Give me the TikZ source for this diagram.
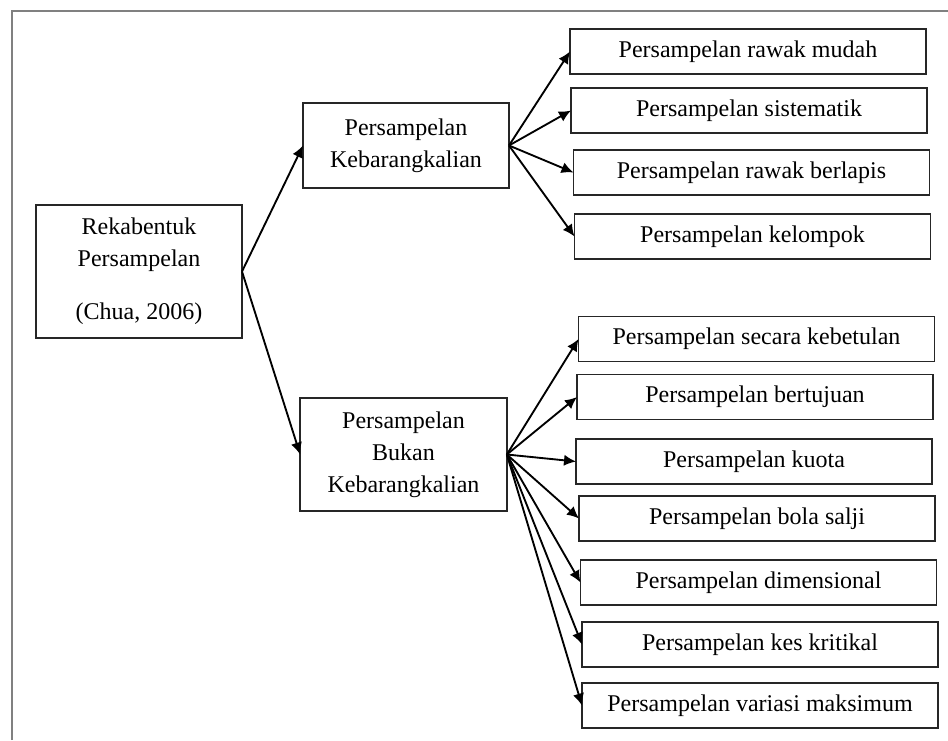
\documentclass[tikz,border=0pt]{standalone}
\usepackage{fontspec}
\setmainfont{Liberation Serif}
\usetikzlibrary{arrows.meta}

\tikzset{
	box/.style={draw=black!85, line width=1.3pt, inner sep=0pt, outer sep=0pt, align=center, text=black, font=\fontsize{18}{24}\selectfont},
	leaf/.style={box, minimum width=267pt, minimum height=33.75pt},
	link/.style={-{Latex[length=9pt,width=8.5pt]}, line width=1.4pt, black},
}

\begin{document}
\begin{tikzpicture}[x=0.75pt, y=-0.75pt]
	\useasboundingbox (0,0) rectangle (948,740);
	\draw[black!50, line width=1.5pt] (12,740) -- (12,11) -- (948,11);
	\node (reka) [box, minimum width=154.5pt, minimum height=99.75pt] at (139,271.5) {Rekabentuk\\Persampelan\\[16pt](Chua, 2006)};
	\node (keb) [box, minimum width=154.5pt, minimum height=63.75pt] at (406,145.5) {Persampelan\\Kebarangkalian};
	\node (bukan) [box, minimum width=155pt, minimum height=84.75pt] at (403.5,454.5) {Persampelan\\Bukan\\Kebarangkalian};
	\node (mudah) [leaf] at (748,51.5) {Persampelan rawak mudah};
	\node (sistem) [leaf] at (749,110.5) {Persampelan sistematik};
	\node (lapis) [leaf] at (751.5,172.5) {Persampelan rawak berlapis};
	\node (kelompok) [leaf] at (752.5,236.5) {Persampelan kelompok};
	\node (betul) [leaf] at (756.5,339) {Persampelan secara kebetulan};
	\node (tuju) [leaf] at (755,397) {Persampelan bertujuan};
	\node (kuota) [leaf] at (754,461.5) {Persampelan kuota};
	\node (bola) [leaf] at (757,518.5) {Persampelan bola salji};
	\node (dimensi) [leaf] at (758.5,582.5) {Persampelan dimensional};
	\node (kes) [leaf] at (760,644.5) {Persampelan kes kritikal};
	\node (variasi) [leaf] at (760,705.5) {Persampelan variasi maksimum};
	\draw[link] (reka.east) -- (keb.west);
	\draw[link] (reka.east) -- (bukan.west);
	\draw[link] (keb.east) -- (mudah.west);
	\draw[link] (keb.east) -- (sistem.west);
	\draw[link] (keb.east) -- (lapis.west);
	\draw[link] (keb.east) -- (kelompok.west);
	\draw[link] (bukan.east) -- (betul.west);
	\draw[link] (bukan.east) -- (tuju.west);
	\draw[link] (bukan.east) -- (kuota.west);
	\draw[link] (bukan.east) -- (bola.west);
	\draw[link] (bukan.east) -- (dimensi.west);
	\draw[link] (bukan.east) -- (kes.west);
	\draw[link] (bukan.east) -- (variasi.west);
\end{tikzpicture}
\end{document}
